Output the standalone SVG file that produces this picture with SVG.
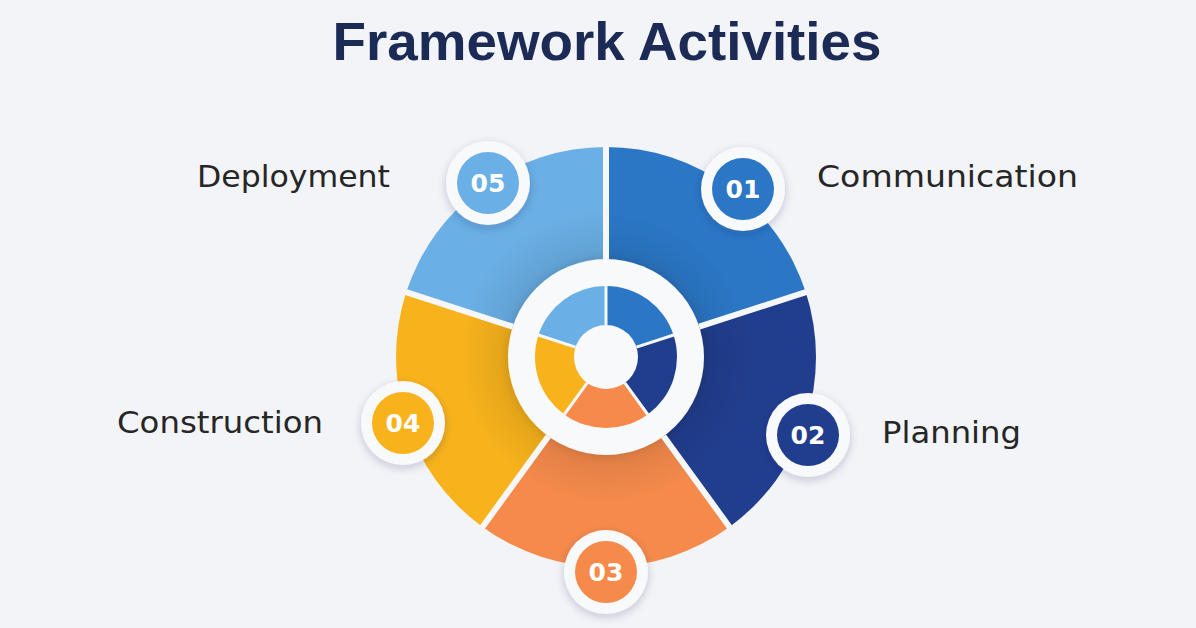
<svg xmlns="http://www.w3.org/2000/svg" width="1196" height="628" viewBox="0 0 1196 628">
<defs>
<style>
.title{font-family:"Liberation Sans",Arial,sans-serif;font-weight:bold;font-size:54px;fill:#1c2a56}
.label{font-family:"DejaVu Sans","Liberation Sans",sans-serif;font-size:30px;fill:#262626}
.num{font-family:"DejaVu Sans","Liberation Sans",sans-serif;font-weight:bold;font-size:25px;fill:#ffffff;text-anchor:middle}
.ring{fill:#f8f9fb}
.div-outer{stroke:#f6f7f9;stroke-width:6;stroke-linecap:butt}
.div-inner{stroke:#f6f7f9;stroke-width:3}
.c1{fill:#2b77c6}.c2{fill:#213e8e}.c3{fill:#f58a4b}.c4{fill:#f8b31c}.c5{fill:#6aafe5}
</style>
<filter id="sh" x="-40%" y="-40%" width="180%" height="180%">
<feDropShadow dx="0" dy="3" stdDeviation="4" flood-color="#1c2a56" flood-opacity="0.22"/>
</filter>
<filter id="sh2" x="-30%" y="-30%" width="160%" height="160%">
<feDropShadow dx="0" dy="0" stdDeviation="6" flood-color="#000" flood-opacity="0.14"/>
</filter>
<radialGradient id="inshade" gradientUnits="userSpaceOnUse" cx="606" cy="357" r="210">
<stop offset="0.44" stop-color="#000" stop-opacity="0.09"/>
<stop offset="0.56" stop-color="#000" stop-opacity="0.05"/>
<stop offset="0.70" stop-color="#000" stop-opacity="0"/>
</radialGradient>
</defs>
<rect width="1196" height="628" fill="#f3f4f7"/>
<text class="title" x="607" y="60" text-anchor="middle" textLength="549" lengthAdjust="spacingAndGlyphs">Framework Activities</text>

<g id="node-01">
<path class="c1" d="M606 357 L606 147 A210 210 0 0 1 805.72 292.11 Z"/>
<circle cx="743" cy="189" r="42" class="ring" filter="url(#sh)"/>
<circle cx="743" cy="189" r="31" class="c1"/>
<text class="num" x="743" y="198">01</text>
<text class="label" x="817" y="187" textLength="261" lengthAdjust="spacingAndGlyphs">Communication</text>
</g>
<g id="node-02">
<path class="c2" d="M606 357 L805.72 292.11 A210 210 0 0 1 729.44 526.89 Z"/>
<circle cx="808" cy="435" r="42" class="ring" filter="url(#sh)"/>
<circle cx="808" cy="435" r="31" class="c2"/>
<text class="num" x="808" y="444">02</text>
<text class="label" x="882" y="443" textLength="139" lengthAdjust="spacingAndGlyphs">Planning</text>
</g>
<g id="node-03">
<path class="c3" d="M606 357 L729.44 526.89 A210 210 0 0 1 482.56 526.89 Z"/>
<circle cx="606" cy="572" r="42" class="ring" filter="url(#sh)"/>
<circle cx="606" cy="572" r="31" class="c3"/>
<text class="num" x="606" y="581">03</text>
</g>
<g id="node-04">
<path class="c4" d="M606 357 L482.56 526.89 A210 210 0 0 1 406.28 292.11 Z"/>
<circle cx="403" cy="423" r="42" class="ring" filter="url(#sh)"/>
<circle cx="403" cy="423" r="31" class="c4"/>
<text class="num" x="403" y="432">04</text>
<text class="label" x="117" y="433" textLength="206" lengthAdjust="spacingAndGlyphs">Construction</text>
</g>
<g id="node-05">
<path class="c5" d="M606 357 L406.28 292.11 A210 210 0 0 1 606 147 Z"/>
<circle cx="488" cy="183" r="42" class="ring" filter="url(#sh)"/>
<circle cx="488" cy="183" r="31" class="c5"/>
<text class="num" x="488" y="192">05</text>
<text class="label" x="197" y="187" textLength="193" lengthAdjust="spacingAndGlyphs">Deployment</text>
</g>

<g id="hub">
<circle cx="606" cy="357" r="150" fill="url(#inshade)"/>
<circle cx="606" cy="357" r="98" class="ring" filter="url(#sh2)"/>
<path class="c1" d="M606 357 L606 286 A71 71 0 0 1 673.53 335.06 Z"/>
<path class="c2" d="M606 357 L673.53 335.06 A71 71 0 0 1 647.73 414.44 Z"/>
<path class="c3" d="M606 357 L647.73 414.44 A71 71 0 0 1 564.27 414.44 Z"/>
<path class="c4" d="M606 357 L564.27 414.44 A71 71 0 0 1 538.47 335.06 Z"/>
<path class="c5" d="M606 357 L538.47 335.06 A71 71 0 0 1 606 286 Z"/>
<circle cx="606" cy="357" r="32" fill="#f8f9fb"/>
</g>

<g id="connectors">
<line class="div-outer" x1="606" y1="259" x2="606" y2="146"/>
<line class="div-outer" x1="699.20" y1="326.72" x2="806.67" y2="291.80"/>
<line class="div-outer" x1="663.60" y1="436.28" x2="730.03" y2="527.70"/>
<line class="div-outer" x1="548.40" y1="436.28" x2="481.97" y2="527.70"/>
<line class="div-outer" x1="512.80" y1="326.72" x2="405.33" y2="291.80"/>
<line class="div-inner" x1="606" y1="325" x2="606" y2="285"/>
<line class="div-inner" x1="636.43" y1="347.11" x2="674.48" y2="334.75"/>
<line class="div-inner" x1="624.81" y1="382.89" x2="648.32" y2="415.25"/>
<line class="div-inner" x1="587.19" y1="382.89" x2="563.68" y2="415.25"/>
<line class="div-inner" x1="575.57" y1="347.11" x2="537.52" y2="334.75"/>
</g>
</svg>
